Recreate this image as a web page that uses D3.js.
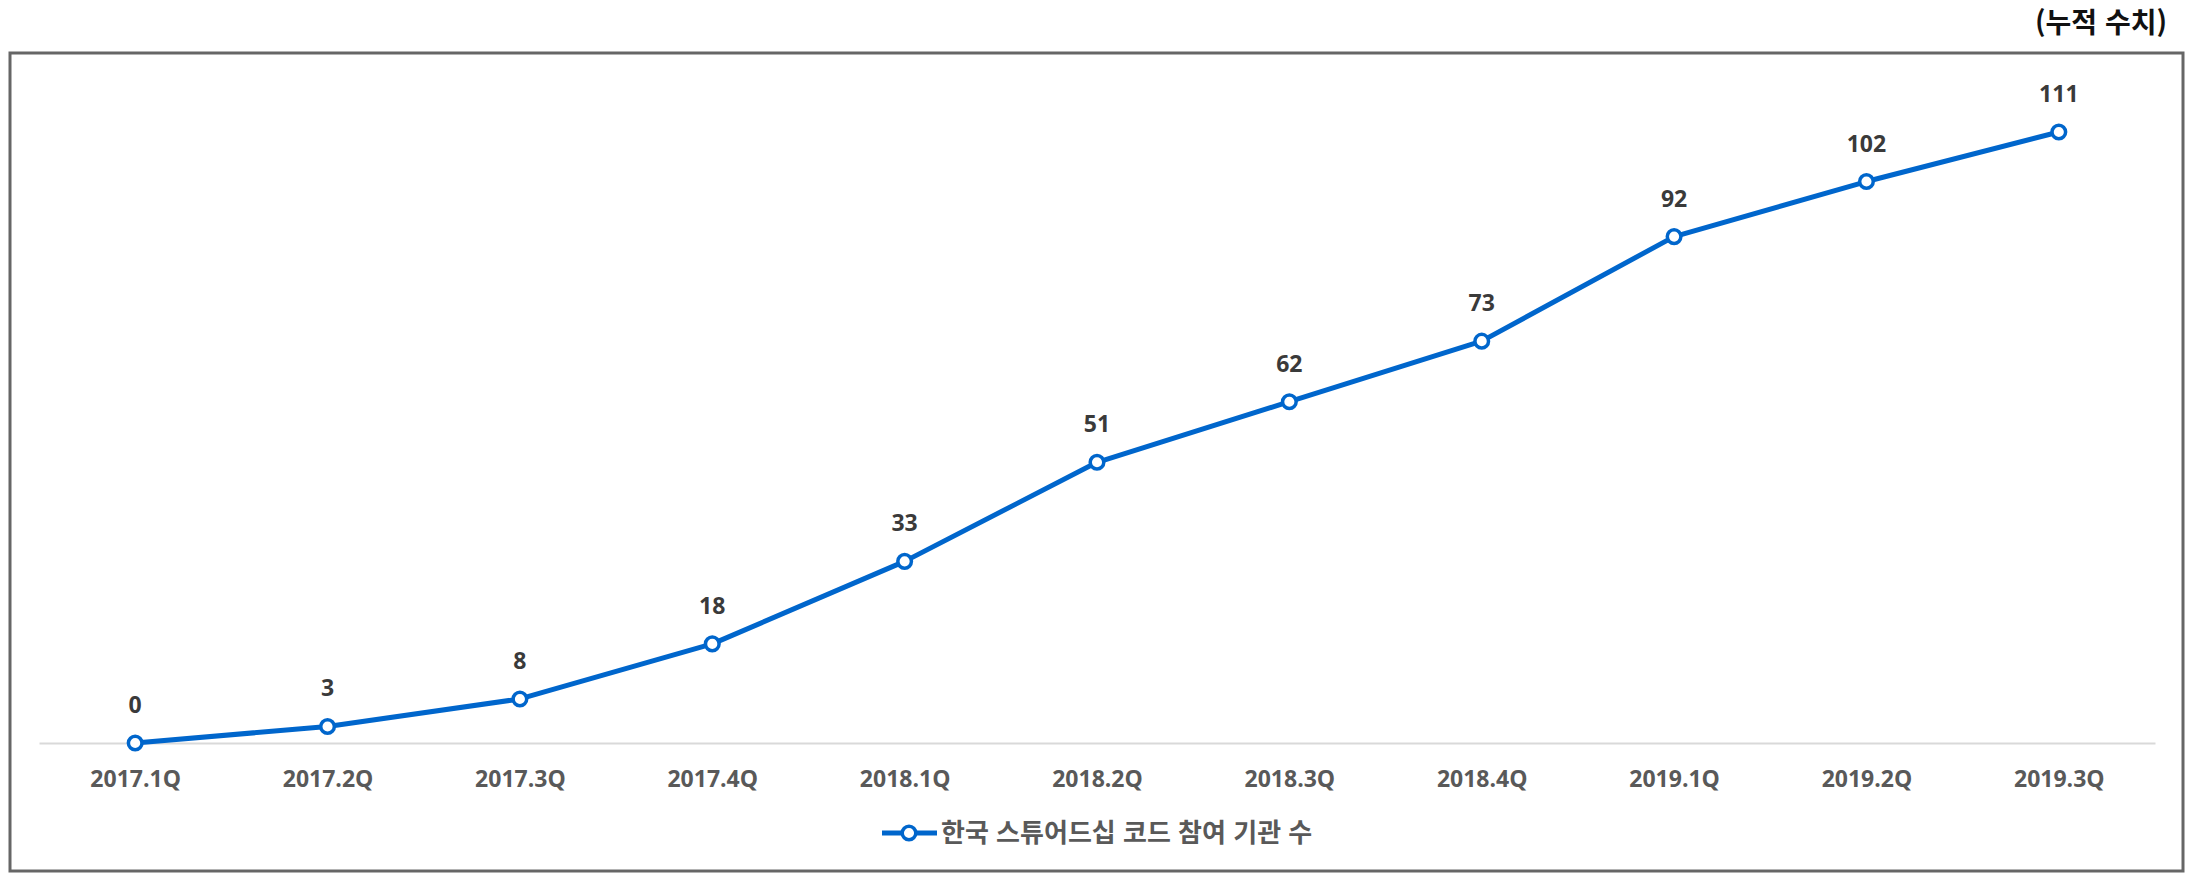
<!DOCTYPE html>
<html lang="ko">
<head>
<meta charset="UTF-8">
<title>한국 스튜어드십 코드 참여 기관 수</title>
<script src="https://d3js.org/d3.v7.min.js"></script>
<style>
 body {
   margin: 0;
   background: #fff;
   font-family: "Open Sans", "Noto Sans CJK KR", sans-serif;
 }
 .frame {
   fill: none;
   stroke: #666;
   stroke-width: 3px;
 }
 .unit {
   font-family: "Noto Sans CJK KR", sans-serif;
   font-size: 28px;
   font-weight: bold;
   fill: #111;
 }
 .x-axis path {
   stroke: #d9d9d9;
   stroke-width: 2px;
 }
 .x-axis text {
   font-family: "Open Sans", "Noto Sans CJK KR", sans-serif;
   font-size: 23px;
   font-weight: bold;
   fill: #595959;
 }
 .series {
   fill: none;
   stroke: #0066cc;
   stroke-width: 5px;
   stroke-linejoin: round;
 }
 .marker {
   fill: #fff;
   stroke: #0066cc;
   stroke-width: 3.5px;
 }
 .value {
   font-size: 23px;
   font-weight: bold;
   fill: #3a3a3a;
 }
 .legend text {
   font-family: "Noto Sans CJK KR", sans-serif;
   font-size: 26px;
   font-weight: bold;
   fill: #595959;
 }
</style>
</head>
<body>
<div id="chart"></div>
<script>
// quarters and cumulative count of participating institutions
const quarters = ["2017.1Q", "2017.2Q", "2017.3Q", "2017.4Q", "2018.1Q", "2018.2Q",
                  "2018.3Q", "2018.4Q", "2019.1Q", "2019.2Q", "2019.3Q"];
const counts = [0, 3, 8, 18, 33, 51, 62, 73, 92, 102, 111];
const seriesName = "한국 스튜어드십 코드 참여 기관 수";
const unitLabel = "(누적 수치)";

const width = 2196;
const height = 873;

const svg = d3.select('#chart').append('svg')
  .attr('width', width)
  .attr('height', height);

// outer box
svg.append('rect')
  .attr('class', 'frame')
  .attr('x', 10)
  .attr('y', 53)
  .attr('width', 2173)
  .attr('height', 818);

svg.append('text')
  .attr('class', 'unit')
  .attr('x', 2167)
  .attr('y', 33)
  .attr('text-anchor', 'end')
  .text(unitLabel);

const x = d3.scalePoint()
  .domain(quarters)
  .range([39, 2155])
  .padding(0.5);

const y = d3.scaleLinear()
  .domain([0, 111])
  .range([743, 132]);

// category axis (baseline doubles as the zero line)
svg.append('g')
  .attr('class', 'x-axis')
  .attr('transform', `translate(0,${y(0)})`)
  .call(d3.axisBottom(x).tickSize(0).tickPadding(28))
  .call(g => g.selectAll('.tick line').remove());

const data = quarters.map((q, i) => ({ q, v: counts[i] }));

const line = d3.line()
  .x(d => x(d.q))
  .y(d => y(d.v));

svg.append('path')
  .datum(data)
  .attr('class', 'series')
  .attr('d', line);

svg.selectAll('.marker')
  .data(data)
  .enter()
  .append('circle')
  .attr('class', 'marker')
  .attr('cx', d => x(d.q))
  .attr('cy', d => y(d.v))
  .attr('r', 6.8);

svg.selectAll('.value')
  .data(data)
  .enter()
  .append('text')
  .attr('class', 'value')
  .attr('x', d => x(d.q))
  .attr('y', d => y(d.v) - 30)
  .attr('text-anchor', 'middle')
  .text(d => d.v);

// legend
const legend = svg.append('g')
  .attr('class', 'legend')
  .attr('transform', 'translate(882,833)');

legend.append('line')
  .attr('x1', 0)
  .attr('x2', 55)
  .attr('stroke', '#0066cc')
  .attr('stroke-width', 5);

legend.append('circle')
  .attr('class', 'marker')
  .attr('cx', 27)
  .attr('cy', 0)
  .attr('r', 6.8);

legend.append('text')
  .attr('x', 59)
  .attr('y', 9)
  .text(seriesName);
</script>
</body>
</html>
